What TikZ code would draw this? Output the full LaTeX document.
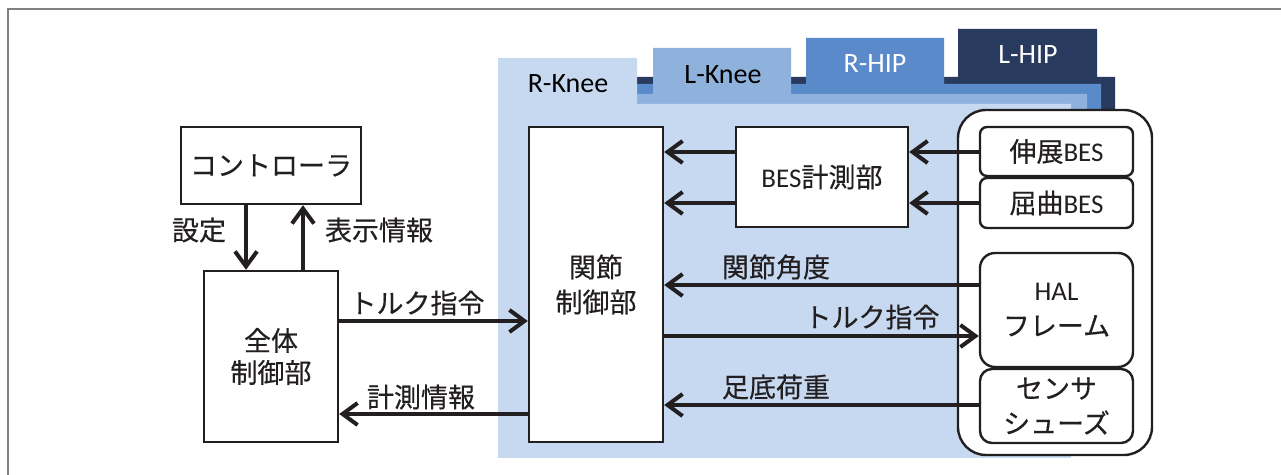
\documentclass[tikz,border=0pt]{standalone}
\usepackage{fontspec}
\setmainfont{Carlito}
\newfontfamily\jp[FakeBold=0.4]{Noto Sans CJK JP}
\usetikzlibrary{arrows.meta}
\definecolor{layA}{HTML}{C6D9F0}
\definecolor{layB}{HTML}{8EB2DC}
\definecolor{layC}{HTML}{5B8ACA}
\definecolor{layD}{HTML}{283A5E}
\definecolor{ink}{HTML}{231F20}
\definecolor{framegray}{HTML}{808080}
\begin{document}
\begin{tikzpicture}[x=0.5pt,y=-0.5pt,
  txt/.style={font=\fontsize{13.5}{17.5}\selectfont,text=ink},
  box/.style={txt,draw=ink,line width=1.2pt,fill=white,inner sep=0pt,align=center},
  lbl/.style={txt,inner sep=0pt},
  tablbl/.style={font=\fontsize{14}{17}\selectfont,inner sep=0pt},
  arr/.style={draw=ink,line width=2pt,-{Straight Barb[length=7.5pt,width=11pt]}}
]
\useasboundingbox (0,0) rectangle (1281,475);
\draw[framegray,line width=0.8pt] (1281,9) -- (8,9) -- (8,475);
% layers
\fill[layD] (958,29) -- (1097,29) -- (1097,77) -- (1115,77) -- (1115,300) -- (600,300) -- (600,77) -- (958,77) -- cycle;
\fill[layC] (806,38) -- (944,38) -- (944,84) -- (1101,84) -- (1101,300) -- (600,300) -- (600,84) -- (806,84) -- cycle;
\fill[layB] (653,48) -- (791,48) -- (791,94) -- (1087,94) -- (1087,300) -- (600,300) -- (600,94) -- (653,94) -- cycle;
\fill[layA] (498,58) -- (637,58) -- (637,104) -- (1071,104) -- (1071,458) -- (498,458) -- cycle;
\node[tablbl,text=black] (tRK) at (568,84) {R-Knee};
\node[tablbl,text=black] (tLK) at (723,75) {L-Knee};
\node[tablbl,text=white] (tRH) at (875,64) {R-HIP};
\node[tablbl,text=white] (tLH) at (1028,55) {L-HIP};
% boxes
\node[box, minimum width=90pt, minimum height=38.5pt] (ctrl) at (271,165.5) {\jp コントローラ};
\node[box, font=\fontsize{13.5}{16}\selectfont, minimum width=67pt, minimum height=85.5pt] (zen) at (271,356.5) {{\jp 全体}\\{\jp 制御部}};
\node[box, minimum width=67pt, minimum height=157.5pt] (kan) at (596,284.5) {{\jp 関節}\\{\jp 制御部}};
\node[box, minimum width=86pt, minimum height=50pt] (besm) at (822,177) {BES{\jp 計測部}};
\node[box, rounded corners=14pt, minimum width=97pt, minimum height=172.5pt] (sens) at (1055,282.5) {};
\node[box, rounded corners=3.5pt, minimum width=76.5pt, minimum height=24.5pt] (ext) at (1056.5,151.5) {{\jp 伸展}BES};
\node[box, rounded corners=3.5pt, minimum width=76.5pt, minimum height=25pt] (flx) at (1056.5,203) {{\jp 屈曲}BES};
\node[box, rounded corners=7.5pt, minimum width=76.5pt, minimum height=57pt] (hal) at (1056.5,310) {HAL\\{\jp フレーム}};
\node[box, rounded corners=6pt, minimum width=76.5pt, minimum height=37pt] (shoe) at (1056.5,406) {{\jp センサ}\\{\jp シューズ}};
% helper coordinates
\coordinate (xSet) at (246,0);
\coordinate (xDisp) at (303,0);
\coordinate (yTq1) at (0,321);
\coordinate (yMeas) at (0,414);
\coordinate (yB1) at (0,152);
\coordinate (yB2) at (0,203);
\coordinate (yAng) at (0,285);
\coordinate (yTq2) at (0,336);
\coordinate (yFoot) at (0,405);
% arrows
\draw[arr] (ctrl.south -| xSet) -- (zen.north -| xSet);
\draw[arr] (zen.north -| xDisp) -- (ctrl.south -| xDisp);
\draw[arr] (zen.east |- yTq1) -- (kan.west |- yTq1);
\draw[arr] (kan.west |- yMeas) -- (zen.east |- yMeas);
\draw[arr] (besm.west |- yB1) -- (kan.east |- yB1);
\draw[arr] (besm.west |- yB2) -- (kan.east |- yB2);
\draw[arr] (ext.west |- yB1) -- (besm.east |- yB1);
\draw[arr] (flx.west |- yB2) -- (besm.east |- yB2);
\draw[arr] (hal.west |- yAng) -- (kan.east |- yAng);
\draw[arr] (kan.east |- yTq2) -- (hal.west |- yTq2);
\draw[arr] (shoe.west |- yFoot) -- (kan.east |- yFoot);
% labels
\node[lbl] (lSet) at (199,230) {\jp 設定};
\node[lbl] (lDisp) at (379,230) {\jp 表示情報};
\node[lbl] (lTq1) at (417,303) {\jp トルク指令};
\node[lbl] (lMeas) at (421,397) {\jp 計測情報};
\node[lbl] (lAng) at (776,267) {\jp 関節角度};
\node[lbl] (lTq2) at (872,317) {\jp トルク指令};
\node[lbl] (lFoot) at (776,387) {\jp 足底荷重};
\end{tikzpicture}
\end{document}
